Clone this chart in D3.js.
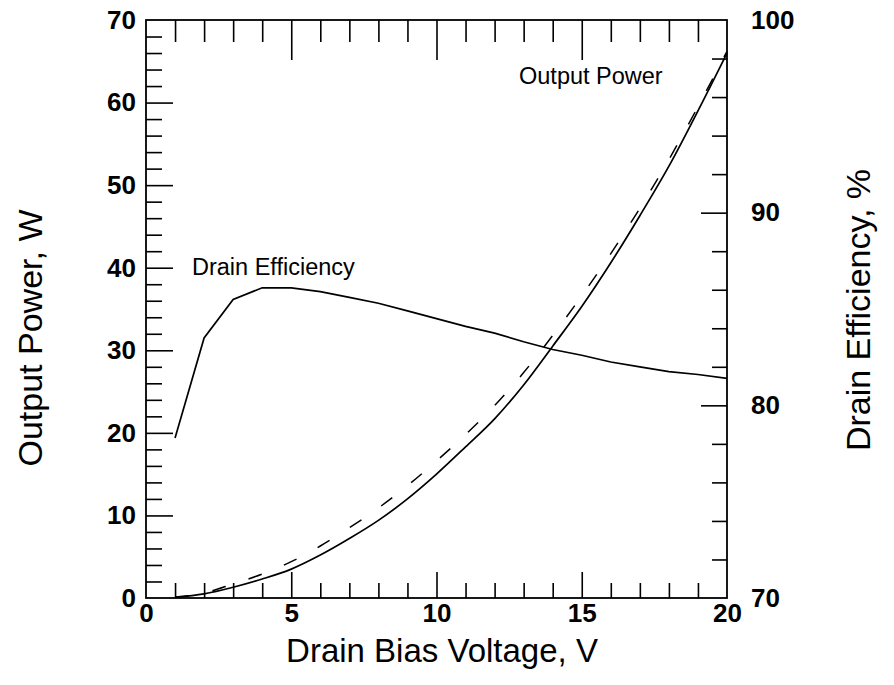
<!DOCTYPE html>
<html>
<head>
<meta charset="utf-8">
<script src="https://cdn.jsdelivr.net/npm/d3@7"></script>
<style>
  body { margin: 0; background: #fff; }
  svg text { font-family: "Liberation Sans", Arial, sans-serif; fill: #000; }
  .domain { display: none; }
  .tick line { stroke: #000; stroke-width: 1.6; }
</style>
</head>
<body>
<svg id="chart" width="894" height="685"></svg>
<script>
// drain bias voltage, V
const voltage = [1, 2, 3, 4, 5, 6, 7, 8, 9, 10, 11, 12, 13, 14, 15, 16, 17, 18, 19, 20];
// measured output power, W (solid)
const powerMeasured = [0.1, 0.5, 1.3, 2.3, 3.5, 5.2, 7.2, 9.4, 12.0, 15.0, 18.3, 21.7, 25.8, 30.5, 35.3, 40.6, 46.3, 52.3, 59.0, 66.0];
// simulated output power, W (dashed)
const powerSimulated = [0.1, 0.6, 1.7, 2.9, 4.4, 6.3, 8.5, 10.9, 13.6, 16.6, 19.8, 23.3, 27.3, 31.8, 36.6, 41.7, 47.2, 53.1, 59.5, 66.2];
// drain efficiency, %
const efficiency = [78.3, 83.5, 85.5, 86.1, 86.1, 85.9, 85.6, 85.3, 84.9, 84.5, 84.1, 83.75, 83.3, 82.9, 82.6, 82.25, 82.0, 81.75, 81.6, 81.4];

const xTicks = [0, 5, 10, 15, 20];
const yLeftTicks = [0, 10, 20, 30, 40, 50, 60, 70];
const yRightTicks = [70, 80, 90, 100];

const margin = { left: 146, top: 20, right: 727, bottom: 598 };

const svg = d3.select("#chart");

const x = d3.scaleLinear().domain([0, 20]).range([margin.left, margin.right]);
const yL = d3.scaleLinear().domain([0, 70]).range([margin.bottom, margin.top]);
const yR = d3.scaleLinear().domain([70, 100]).range([margin.bottom, margin.top]);

const minorX = d3.range(1, 20).filter((v) => v % 5 !== 0);
const majorX = [5, 10, 15];
const minorYL = d3.range(2, 70, 2).filter((v) => v % 10 !== 0);
const majorYL = [10, 20, 30, 40, 50, 60];
const minorYR = d3.range(72, 100, 2).filter((v) => v % 10 !== 0);
const majorYR = [80, 90];

const tickAxis = (axisFn, scale, values, size, pos) => {
  svg
    .append("g")
    .attr("transform", pos)
    .call(axisFn(scale).tickValues(values).tickSize(size).tickFormat(""));
};

// bottom ticks (pointing up)
tickAxis(d3.axisBottom, x, minorX, -15, `translate(0,${margin.bottom})`);
tickAxis(d3.axisBottom, x, majorX, -26, `translate(0,${margin.bottom})`);
// top ticks (pointing down)
tickAxis(d3.axisTop, x, minorX, -22, `translate(0,${margin.top})`);
tickAxis(d3.axisTop, x, majorX, -40, `translate(0,${margin.top})`);
// left ticks (pointing right)
tickAxis(d3.axisLeft, yL, minorYL, -16, `translate(${margin.left},0)`);
tickAxis(d3.axisLeft, yL, majorYL, -27, `translate(${margin.left},0)`);
// right ticks (pointing left)
tickAxis(d3.axisRight, yR, minorYR, -15, `translate(${margin.right},0)`);
tickAxis(d3.axisRight, yR, majorYR, -26, `translate(${margin.right},0)`);

// tick labels
const labelAxis = (axisFn, scale, values, pad, pos) => {
  const g = svg
    .append("g")
    .attr("transform", pos)
    .call(axisFn(scale).tickValues(values).tickSize(0).tickPadding(pad));
  g.selectAll("text")
    .attr("font-size", "26px")
    .attr("font-weight", "bold")
    .attr("font-family", "Liberation Sans, Arial, sans-serif");
  return g;
};

labelAxis(d3.axisBottom, x, xTicks, 6, `translate(0,${margin.bottom})`);
labelAxis(d3.axisLeft, yL, yLeftTicks, 10, `translate(${margin.left},0)`);
labelAxis(d3.axisRight, yR, yRightTicks, 24, `translate(${margin.right},0)`);

// frame
svg
  .append("rect")
  .attr("x", margin.left)
  .attr("y", margin.top)
  .attr("width", margin.right - margin.left)
  .attr("height", margin.bottom - margin.top)
  .attr("fill", "none")
  .attr("stroke", "#000")
  .attr("stroke-width", 1.8);

// curves
const powerLine = (vals) =>
  d3
    .line()
    .x((d, i) => x(voltage[i]))
    .y((d) => yL(d))
    .curve(d3.curveMonotoneX)(vals);

svg
  .append("path")
  .attr("d", powerLine(powerSimulated))
  .attr("fill", "none")
  .attr("stroke", "#000")
  .attr("stroke-width", 1.5)
  .attr("stroke-dasharray", "14,24");

svg
  .append("path")
  .attr("d", powerLine(powerMeasured))
  .attr("fill", "none")
  .attr("stroke", "#000")
  .attr("stroke-width", 1.7);

const effLine = d3
  .line()
  .x((d, i) => x(voltage[i]))
  .y((d) => yR(d));

svg
  .append("path")
  .attr("d", effLine(efficiency))
  .attr("fill", "none")
  .attr("stroke", "#000")
  .attr("stroke-width", 1.7);

// annotations
svg.append("text").attr("x", 192).attr("y", 275).attr("font-size", "23.5px").text("Drain Efficiency");
svg.append("text").attr("x", 519).attr("y", 84).attr("font-size", "23.5px").text("Output Power");

// axis titles
svg
  .append("text")
  .attr("x", 442)
  .attr("y", 662)
  .attr("text-anchor", "middle")
  .attr("font-size", "33px")
  .text("Drain Bias Voltage, V");

svg
  .append("text")
  .attr("transform", "translate(42,338) rotate(-90)")
  .attr("text-anchor", "middle")
  .attr("font-size", "34px")
  .text("Output Power, W");

svg
  .append("text")
  .attr("transform", "translate(870,310) rotate(-90)")
  .attr("text-anchor", "middle")
  .attr("font-size", "34px")
  .text("Drain Efficiency, %");
</script>
</body>
</html>
